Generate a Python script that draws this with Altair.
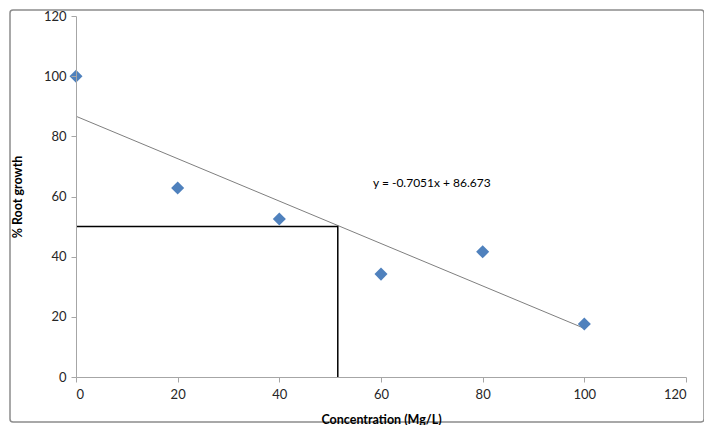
import altair as alt
import pandas as pd

conc = [0, 20, 40, 60, 80, 100]
growth = [100, 62.8, 52.5, 34.2, 41.6, 17.6]
trend_x = [0, 100]
trend_y = [86.673, 16.163]
ic50_x = [0, 51.5, 51.5]
ic50_y = [50, 50, 0]
eq_label = "y = -0.7051x + 86.673"

pts = pd.DataFrame({"x": conc, "y": growth})
trend = pd.DataFrame({"x": trend_x, "y": trend_y})
guide = pd.DataFrame({"x": ic50_x, "y": ic50_y, "o": [0, 1, 2]})
lab = pd.DataFrame({"x": [70], "y": [64.5], "t": [eq_label]})

FONT = "Lato"
xs = alt.Scale(domain=[0, 120], nice=False, zero=True)
ys = alt.Scale(domain=[0, 120], nice=False, zero=True)

xax = alt.Axis(values=[0, 20, 40, 60, 80, 100, 120], title="Concentration (Mg/L)", grid=False,
               domainColor="#a6a6a6", tickColor="#a6a6a6", tickSize=5, labelFontSize=13,
               labelColor="#262626", labelFont=FONT, labelPadding=6, titleFont=FONT,
               titleFontSize=12.5, titleFontWeight="bold", titleColor="#000000", titlePadding=12,
               zindex=1)
yax = alt.Axis(values=[0, 20, 40, 60, 80, 100, 120], title="% Root growth", grid=False,
               domainColor="#a6a6a6", tickColor="#a6a6a6", tickSize=5, labelFontSize=13,
               labelColor="#262626", labelFont=FONT, labelPadding=5, titleFont=FONT,
               titleFontSize=12.5, titleFontWeight="bold", titleColor="#000000", titlePadding=19,
               zindex=1)

border = alt.Chart(pd.DataFrame({"a": [0]})).mark_rect(
    fill="transparent", stroke="#8c8c8c", strokeWidth=1.5, cornerRadius=3
).encode(x=alt.value(-66), x2=alt.value(628), y=alt.value(-6), y2=alt.value(406))

trend_line = alt.Chart(trend).mark_line(color="#7f7f7f", strokeWidth=1).encode(
    x=alt.X("x:Q", scale=xs, axis=xax), y=alt.Y("y:Q", scale=ys, axis=yax))

guide_line = alt.Chart(guide).mark_line(color="#000000", strokeWidth=1.5).encode(
    x=alt.X("x:Q", scale=xs), y=alt.Y("y:Q", scale=ys), order="o:O")

points = alt.Chart(pts).mark_point(shape="diamond", filled=True, size=170, color="#4f81bd", opacity=1).encode(
    x=alt.X("x:Q", scale=xs), y=alt.Y("y:Q", scale=ys))

text = alt.Chart(lab).mark_text(font=FONT, fontSize=12, color="#000000").encode(
    x=alt.X("x:Q", scale=xs), y=alt.Y("y:Q", scale=ys), text="t:N")

chart = alt.layer(border, trend_line, guide_line, points, text).properties(
    width=610, height=361,
    autosize=alt.AutoSizeParams(type="none"),
    padding={"left": 68, "top": 8, "right": 18, "bottom": 48},
).configure_view(stroke=None)

chart.save("out.html", embed_options={"renderer": "svg", "actions": False})
